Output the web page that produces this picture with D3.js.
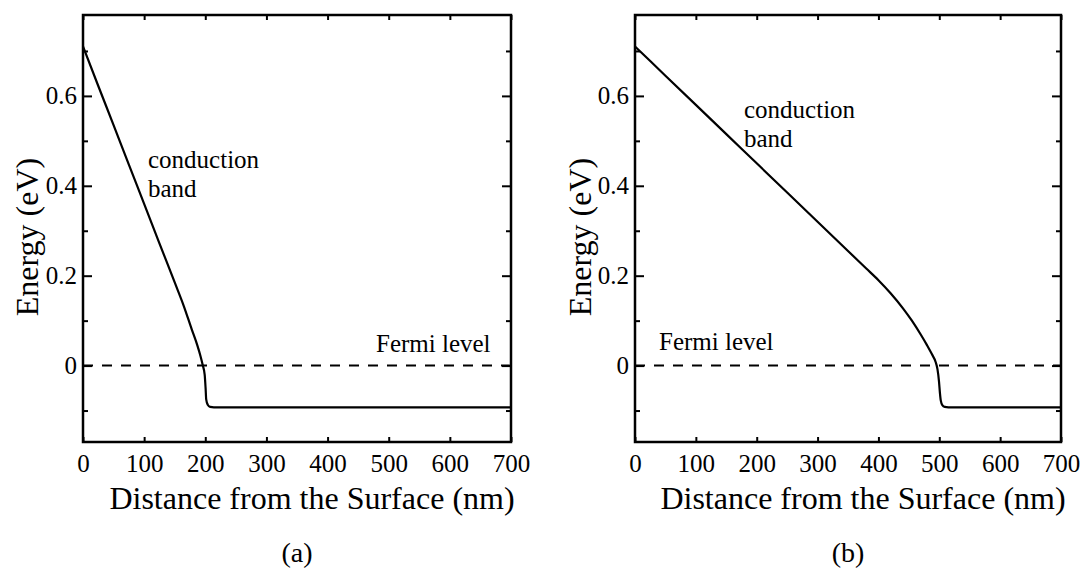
<!DOCTYPE html>
<html>
<head>
<meta charset="utf-8">
<script src="https://cdn.jsdelivr.net/npm/d3@7"></script>
<style>
  body { margin: 0; background: #fff; }
</style>
</head>
<body>
<script>
// conduction band profiles: distance (nm) -> energy (eV)
const distA   = [0, 25, 50, 75, 100, 125, 150, 165, 178, 187, 192, 196, 199, 200.5, 201.5, 204, 208, 214, 700];
const energyA = [0.71, 0.622, 0.535, 0.447, 0.36, 0.272, 0.185, 0.132, 0.08, 0.045, 0.022, 0.0, -0.02, -0.05, -0.075, -0.087, -0.092, -0.093, -0.093];

const distB   = [0, 50, 100, 150, 200, 250, 300, 350, 380, 400, 420, 440, 455, 470, 480, 488, 494, 497, 499.5, 501, 502.5, 505, 509, 515, 700];
const energyB = [0.71, 0.645, 0.58, 0.515, 0.45, 0.385, 0.32, 0.255, 0.216, 0.19, 0.161, 0.128, 0.1, 0.068, 0.045, 0.025, 0.008, -0.008, -0.035, -0.06, -0.078, -0.088, -0.092, -0.093, -0.093];

const xTicks  = [0, 100, 200, 300, 400, 500, 600, 700];
const yMajor  = [0, 0.2, 0.4, 0.6];
const yMinor  = [-0.1, 0.1, 0.3, 0.5, 0.7];
const xDomain = [0, 700];
const yDomain = [-0.17, 0.78];
const fermiLevel = 0;

const panelNames = ["(a)", "(b)"];
const xTitle = "Distance from the Surface (nm)";
const yTitle = "Energy (eV)";
const bandText = ["conduction", "band"];
const fermiText = "Fermi level";

const WIDTH = 1085, HEIGHT = 570;
const TOP = 15, BOTTOM = 442;
const FONT = "Liberation Serif";

const svg = d3.select("body").append("svg")
    .attr("width", WIDTH)
    .attr("height", HEIGHT)
    .attr("font-family", FONT);

const panels = [
  { left: 83,  right: 511,  dist: distA, energy: energyA, name: panelNames[0],
    band: [148, 168], fermi: [376, 352], yTitleX: 38 },
  { left: 635, right: 1061, dist: distB, energy: energyB, name: panelNames[1],
    band: [744, 118], fermi: [659, 350], yTitleX: 591 }
];

const fmt = d => d === 0 ? "0" : d.toFixed(1);

panels.forEach(p => {
  const x = d3.scaleLinear().domain(xDomain).range([p.left, p.right]);
  const y = d3.scaleLinear().domain(yDomain).range([BOTTOM, TOP]);
  const g = svg.append("g");

  // ticks, all pointing inward
  const addAxis = (axis, tx, ty) => {
    const a = g.append("g")
        .attr("transform", `translate(${tx},${ty})`)
        .call(axis)
        .attr("font-family", FONT)
        .attr("font-size", 25);
    a.select(".domain").remove();
    a.selectAll("line").attr("stroke", "#000").attr("stroke-width", 2);
    a.selectAll("text").attr("fill", "#000");
    return a;
  };

  addAxis(d3.axisLeft(y).tickValues(yMajor).tickSize(-9).tickPadding(6).tickFormat(fmt), p.left, 0);
  addAxis(d3.axisLeft(y).tickValues(yMinor).tickSize(-5).tickFormat(""), p.left, 0);
  addAxis(d3.axisRight(y).tickValues(yMajor).tickSize(-9).tickFormat(""), p.right, 0);
  addAxis(d3.axisRight(y).tickValues(yMinor).tickSize(-5).tickFormat(""), p.right, 0);
  addAxis(d3.axisBottom(x).tickValues(xTicks).tickSize(-5).tickPadding(12).tickFormat(d3.format("d")), 0, BOTTOM);
  addAxis(d3.axisTop(x).tickValues(xTicks).tickSize(-5).tickFormat(""), 0, TOP);

  // frame
  g.append("rect")
      .attr("x", p.left).attr("y", TOP)
      .attr("width", p.right - p.left).attr("height", BOTTOM - TOP)
      .attr("fill", "none").attr("stroke", "#000").attr("stroke-width", 2.5);

  // Fermi level
  g.append("line")
      .attr("x1", x(xDomain[0])).attr("x2", x(xDomain[1]))
      .attr("y1", y(fermiLevel)).attr("y2", y(fermiLevel))
      .attr("stroke", "#000").attr("stroke-width", 2)
      .attr("stroke-dasharray", "10,9");

  // conduction band
  const line = d3.line()
      .x((d, i) => x(p.dist[i]))
      .y(d => y(d))
      .curve(d3.curveMonotoneX);
  g.append("path")
      .datum(p.energy)
      .attr("d", line)
      .attr("fill", "none")
      .attr("stroke", "#000")
      .attr("stroke-width", 2.2);

  // labels
  const label = (tx, ty, size, str) => g.append("text")
      .attr("x", tx).attr("y", ty)
      .attr("font-family", FONT)
      .attr("font-size", size)
      .attr("fill", "#000")
      .text(str);

  label(p.band[0], p.band[1], 25, bandText[0]);
  label(p.band[0], p.band[1] + 29, 25, bandText[1]);
  label(p.fermi[0], p.fermi[1], 25, fermiText);

  label((p.left + p.right) / 2 + 15, 509, 32, xTitle).attr("text-anchor", "middle");
  label(0, 0, 32, yTitle)
      .attr("transform", `translate(${p.yTitleX},237) rotate(-90)`)
      .attr("text-anchor", "middle");
  label((p.left + p.right) / 2, 562, 28, p.name).attr("text-anchor", "middle");
});
</script>
</body>
</html>
